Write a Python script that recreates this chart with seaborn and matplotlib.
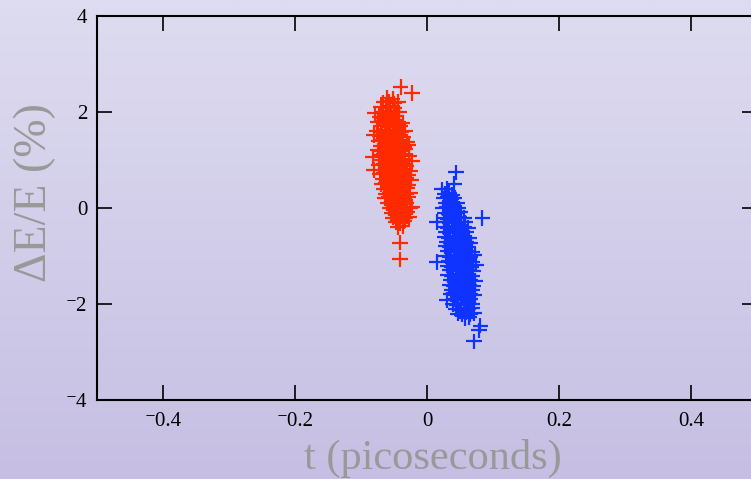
import numpy as np
import pandas as pd
import matplotlib
matplotlib.use("Agg")
import matplotlib.pyplot as plt
from matplotlib.colors import LinearSegmentedColormap
import seaborn as sns

# arrival time in femtoseconds, energy deviation in percent
red_t = [
    -40, -23, -60, -52,
    -66, -58, -50, -44,
    -70, -62, -56, -49,
    -79, -68, -61, -55, -48, -42,
    -72, -65, -59, -53, -46,
    -74, -67, -61, -56, -50, -43, -37,
    -70, -64, -58, -52, -47, -40,
    -76, -68, -62, -57, -51, -45, -39, -33,
    -80, -71, -65, -59, -54, -48, -42, -36,
    -73, -67, -61, -55, -50, -44, -38, -30,
    -70, -64, -58, -53, -47, -41, -35, -28,
    -75, -68, -62, -56, -50, -45, -39, -33,
    -72, -66, -60, -54, -48, -42, -36, -27,
    -82, -69, -63, -57, -52, -46, -40, -34, -22,
    -73, -66, -60, -55, -49, -43, -37, -31,
    -80, -69, -62, -56, -51, -45, -39, -33, -26,
    -71, -65, -59, -53, -47, -41, -35, -29,
    -67, -61, -55, -49, -44, -38, -32, -24,
    -69, -63, -57, -51, -46, -40, -34, -28,
    -65, -59, -53, -48, -42, -36, -30,
    -62, -56, -50, -44, -38, -32, -26,
    -64, -58, -52, -46, -40, -35, -29,
    -60, -54, -48, -43, -37, -31, -22,
    -57, -51, -45, -39, -33, -26,
    -54, -48, -42, -36, -30,
    -52, -45, -39, -33, -27,
    -47, -41, -35,
    -44, -37,
    -41, -41,
]
red_de = [
    2.52, 2.40, 2.30, 2.28,
    2.20, 2.22, 2.18, 2.21,
    2.10, 2.08, 2.12, 2.09,
    1.97, 2.00, 2.02, 1.98, 2.01, 1.99,
    1.90, 1.88, 1.92, 1.89, 1.91,
    1.80, 1.82, 1.78, 1.81, 1.79, 1.80, 1.77,
    1.70, 1.72, 1.68, 1.71, 1.69, 1.70,
    1.60, 1.58, 1.62, 1.59, 1.61, 1.60, 1.58, 1.61,
    1.52, 1.50, 1.48, 1.51, 1.49, 1.50, 1.52, 1.48,
    1.40, 1.42, 1.38, 1.41, 1.39, 1.40, 1.42, 1.38,
    1.30, 1.32, 1.28, 1.31, 1.29, 1.30, 1.28, 1.32,
    1.20, 1.18, 1.22, 1.19, 1.21, 1.20, 1.18, 1.22,
    1.10, 1.12, 1.08, 1.11, 1.09, 1.10, 1.12, 1.08,
    1.07, 1.00, 1.02, 0.98, 1.01, 0.99, 1.00, 1.02, 0.98,
    0.90, 0.92, 0.88, 0.91, 0.89, 0.90, 0.92, 0.88,
    0.79, 0.80, 0.82, 0.78, 0.81, 0.79, 0.80, 0.82, 0.78,
    0.70, 0.72, 0.68, 0.71, 0.69, 0.70, 0.72, 0.68,
    0.60, 0.62, 0.58, 0.61, 0.59, 0.60, 0.62, 0.58,
    0.50, 0.52, 0.48, 0.51, 0.49, 0.50, 0.52, 0.48,
    0.40, 0.42, 0.38, 0.41, 0.39, 0.40, 0.42,
    0.30, 0.32, 0.28, 0.31, 0.29, 0.30, 0.32,
    0.20, 0.22, 0.18, 0.21, 0.19, 0.20, 0.22,
    0.10, 0.12, 0.08, 0.11, 0.09, 0.10, 0.02,
    0.00, 0.02, -0.02, 0.01, -0.01, 0.00,
    -0.10, -0.12, -0.08, -0.11, -0.09,
    -0.20, -0.22, -0.18, -0.21, -0.19,
    -0.30, -0.32, -0.28,
    -0.40, -0.38,
    -0.72, -1.07,
]

blue_t = [
    44, 41, 23, 30,
    27, 34, 38,
    25, 31, 37, 42,
    28, 34, 40, 46,
    24, 30, 36, 42, 48,
    27, 33, 39, 45, 51,
    25, 31, 37, 43, 49, 56, 84,
    15, 28, 34, 40, 46, 52, 58,
    26, 32, 38, 44, 50, 56, 62,
    29, 35, 41, 47, 53, 59,
    27, 33, 39, 45, 51, 57, 64,
    30, 36, 42, 48, 54, 60, 66,
    28, 34, 40, 46, 52, 58, 63,
    31, 37, 43, 49, 55, 61, 68,
    29, 35, 41, 47, 53, 59, 65, 72,
    15, 33, 39, 45, 51, 57, 63, 69,
    31, 37, 43, 49, 55, 61, 67, 74,
    34, 40, 46, 52, 58, 64, 70,
    32, 38, 44, 50, 56, 62, 68,
    36, 42, 48, 54, 60, 66, 73,
    34, 40, 46, 52, 58, 64, 70,
    38, 44, 50, 56, 62, 68,
    36, 42, 48, 54, 60, 66, 72,
    30, 41, 47, 53, 59, 65,
    39, 45, 51, 57, 63, 69,
    44, 50, 56, 62, 68,
    47, 53, 59, 65, 71,
    58, 64,
    81, 79, 71,
]
blue_de = [
    0.74, 0.50, 0.39, 0.40,
    0.30, 0.32, 0.28,
    0.20, 0.22, 0.18, 0.21,
    0.10, 0.12, 0.08, 0.11,
    0.00, 0.02, -0.02, 0.01, -0.01,
    -0.10, -0.12, -0.08, -0.11, -0.09,
    -0.20, -0.22, -0.18, -0.21, -0.19, -0.20, -0.21,
    -0.29, -0.30, -0.32, -0.28, -0.31, -0.29, -0.30,
    -0.40, -0.42, -0.38, -0.41, -0.39, -0.40, -0.42,
    -0.50, -0.52, -0.48, -0.51, -0.49, -0.50,
    -0.60, -0.62, -0.58, -0.61, -0.59, -0.60, -0.62,
    -0.70, -0.72, -0.68, -0.71, -0.69, -0.70, -0.72,
    -0.80, -0.82, -0.78, -0.81, -0.79, -0.80, -0.82,
    -0.90, -0.92, -0.88, -0.91, -0.89, -0.90, -0.92,
    -1.00, -1.02, -0.98, -1.01, -0.99, -1.00, -1.02, -0.98,
    -1.12, -1.10, -1.12, -1.08, -1.11, -1.09, -1.10, -1.12,
    -1.20, -1.22, -1.18, -1.21, -1.19, -1.20, -1.22, -1.18,
    -1.30, -1.32, -1.28, -1.31, -1.29, -1.30, -1.32,
    -1.40, -1.42, -1.38, -1.41, -1.39, -1.40, -1.42,
    -1.50, -1.52, -1.48, -1.51, -1.49, -1.50, -1.52,
    -1.60, -1.62, -1.58, -1.61, -1.59, -1.60, -1.62,
    -1.70, -1.72, -1.68, -1.71, -1.69, -1.70,
    -1.80, -1.82, -1.78, -1.81, -1.79, -1.80, -1.82,
    -1.92, -1.90, -1.92, -1.88, -1.91, -1.89,
    -2.00, -2.02, -1.98, -2.01, -1.99, -2.00,
    -2.10, -2.12, -2.08, -2.11, -2.09,
    -2.20, -2.22, -2.18, -2.21, -2.19,
    -2.30, -2.28,
    -2.45, -2.55, -2.78,
]

x_ticks = [-0.4, -0.2, 0, 0.2, 0.4]
y_ticks = [-4, -2, 0, 2, 4]

red_col = "#ff2a00"
blue_col = "#1034ff"

df = pd.concat([
    pd.DataFrame({"t": np.array(red_t) / 1000.0, "dE": red_de, "bunch": "red"}),
    pd.DataFrame({"t": np.array(blue_t) / 1000.0, "dE": blue_de, "bunch": "blue"}),
])

sns.set_style("ticks")
plt.rcParams["font.family"] = ["Liberation Serif", "DejaVu Serif"]

fig = plt.figure(figsize=(7.51, 4.79), dpi=100)

# lavender gradient behind everything
bg = fig.add_axes([0, 0, 1, 1], zorder=-5)
cmap = LinearSegmentedColormap.from_list("bg", ["#c6bfe3", "#dedcf0"])
bg.imshow(np.linspace(0, 1, 256).reshape(-1, 1), cmap=cmap, aspect="auto",
          origin="lower", extent=[0, 1, 0, 1])
bg.axis("off")

ax = fig.add_axes([97 / 751, 79 / 479, 660 / 751, 384 / 479])
ax.set_facecolor("none")

sns.scatterplot(data=df, x="t", y="dE", hue="bunch",
                palette={"red": red_col, "blue": blue_col},
                marker="+", s=125, linewidth=1.6, legend=False, ax=ax)


def fmt(v):
    # the original uses a short raised minus
    return f"{v:g}".replace("-", "\u207b")


ax.set_xlim(-0.5, 0.5)
ax.set_ylim(-4, 4)
ax.set_xticks(x_ticks)
ax.set_yticks(y_ticks)
ax.set_xticklabels([fmt(v) for v in x_ticks])
ax.set_yticklabels([fmt(v) for v in y_ticks])
ax.tick_params(direction="in", length=11, width=1.2, top=True, right=True,
               labelsize=15, colors="black")
ax.tick_params(axis="x", pad=9)
ax.tick_params(axis="y", pad=7)
for sp in ax.spines.values():
    sp.set_linewidth(1.5)
    sp.set_color("black")
    sp.set_visible(True)

ax.set_xlabel("t (picoseconds)", fontsize=30.5, color="#999999")
ax.set_ylabel("\u0394E/E (%)", fontsize=33, color="#999999")
ax.xaxis.set_label_coords((433 - 97) / 660, -(458 - 400) / 384)
ax.yaxis.set_label_coords(-(97 - 35) / 660, (400 - 193) / 384)
ax.xaxis.label.set_va("center")
ax.yaxis.label.set_va("center")

fig.savefig("out.png", dpi=100)
